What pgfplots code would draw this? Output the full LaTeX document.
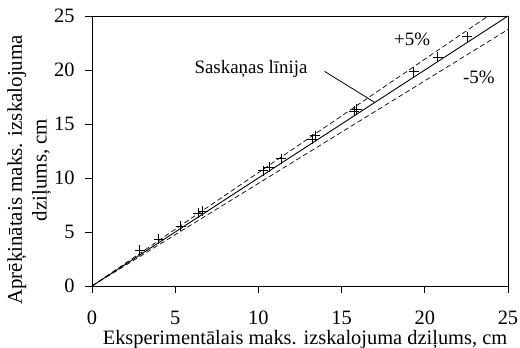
\documentclass[border=0pt]{standalone}
\usepackage{fontspec}
\setmainfont{Liberation Serif}
\usepackage{pgfplots}
\pgfplotsset{compat=1.18}
\begin{document}
\begin{tikzpicture}
\begin{axis}[
  scale only axis, width=416bp, height=270bp,
  xmin=0, xmax=25, ymin=0, ymax=25,
  xtick={0,5,...,25}, ytick={0,5,...,25},
  tick align=outside, xtick pos=left, ytick pos=left,
  major tick length=7bp,
  tick style={black, line width=0.7pt},
  axis line style={line width=0.8pt},
  /pgf/number format/assume math mode=true,
  ticklabel style={font=\fontsize{20.5}{24}\selectfont},
  xticklabel style={anchor=base, yshift=-31bp},
  yticklabel style={xshift=-7bp},
  xlabel={Eksperimentālais maks. izskalojuma dziļums, cm},
  ylabel={Aprēķinātais maks. izskalojuma\\dziļums, cm},
  xlabel style={font=\fontsize{20.5}{24}\selectfont, at={([yshift=-58bp]rel axis cs:0.512,0)}, anchor=base},
  ylabel style={font=\fontsize{21}{25}\selectfont, align=center, at={([xshift=-45.3bp]rel axis cs:0,0.43)}, anchor=base},
  clip=false,
]
\addplot[black, line width=0.9pt] coordinates {(0,0) (25,25)};
\addplot[black, line width=0.7pt, dash pattern=on 5bp off 3bp] coordinates {(0,0) (23.81,25)};
\addplot[black, line width=0.7pt, dash pattern=on 5bp off 3bp] coordinates {(0,0) (25,23.75)};
\addplot[only marks, mark=+, mark size=5bp, black, mark options={line width=0.8pt}] coordinates {
  (2.87,3.33) (4.0,4.35) (5.32,5.55) (6.37,6.72) (6.65,6.9)
  (10.3,10.67) (10.66,10.98) (11.37,11.8) (13.25,13.6) (13.4,13.9)
  (15.75,16.2) (15.9,16.35) (19.34,19.84) (20.78,21.17) (22.55,23.08)
};
\node[font=\fontsize{19}{22}\selectfont] at (axis cs:9.56,20.1) {Saskaņas līnija};
\draw[line width=0.8pt] (axis cs:13.98,19.87) -- (axis cs:16.99,17.0);
\node[font=\fontsize{19}{22}\selectfont] at (axis cs:19.24,22.87) {+5\%};
\node[font=\fontsize{19}{22}\selectfont] at (axis cs:23.25,19.3) {-5\%};
\coordinate (bl) at (rel axis cs:0,0);
\coordinate (tr) at (rel axis cs:1,1);
\end{axis}
\pgfresetboundingbox
\path[use as bounding box] ([shift={(-92bp,-62bp)}]bl) rectangle ([shift={(12bp,16bp)}]tr);
\end{tikzpicture}
\end{document}
